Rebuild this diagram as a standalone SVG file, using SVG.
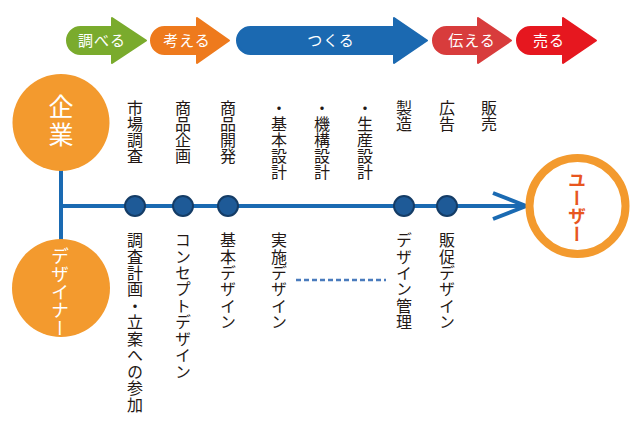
<svg xmlns="http://www.w3.org/2000/svg" width="640" height="431" viewBox="0 0 640 431">
<style>
text { font-family: "Noto Sans CJK JP", "Noto Sans", sans-serif; }
.step { fill: #ffffff; font-size: 15px; letter-spacing: 1px; text-anchor: middle; }
.v { writing-mode: vertical-rl; fill: #231815; font-size: 16px; }
.vb { letter-spacing: 0.45px; }
.arrow { stroke-width: 2; stroke-linejoin: round; }
.node { fill: #1e5a97; stroke: #143c66; stroke-width: 2; }
.line { stroke: #1a6ab2; stroke-width: 4; fill: none; }
</style>
<rect width="640" height="431" fill="#ffffff"/>
<g id="steps">
  <g id="step-shiraberu">
    <path class="arrow" fill="#7aab2d" stroke="#7aab2d" d="M80.5 27 H112 V18 L146 40.5 L112 63 V54 H80.5 A13.5 13.5 0 0 1 80.5 27 Z"/>
    <text class="step" x="102" y="46">調べる</text>
  </g>
  <g id="step-kangaeru">
    <path class="arrow" fill="#ee7a1d" stroke="#ee7a1d" d="M164.5 27 H197 V18 L229 40.5 L197 63 V54 H164.5 A13.5 13.5 0 0 1 164.5 27 Z"/>
    <text class="step" x="187" y="46">考える</text>
  </g>
  <g id="step-tsukuru">
    <path class="arrow" fill="#1b69b1" stroke="#1b69b1" d="M250.5 27 H394 V18 L427 40.5 L394 63 V54 H250.5 A13.5 13.5 0 0 1 250.5 27 Z"/>
    <text class="step" x="331" y="46">つくる</text>
  </g>
  <g id="step-tsutaeru">
    <path class="arrow" fill="#d83c3c" stroke="#d83c3c" d="M446.5 27 H478 V18 L511 40.5 L478 63 V54 H446.5 A13.5 13.5 0 0 1 446.5 27 Z"/>
    <text class="step" x="472" y="46">伝える</text>
  </g>
  <g id="step-uru">
    <path class="arrow" fill="#e6171f" stroke="#e6171f" d="M530.5 27 H563 V18 L596 40.5 L563 63 V54 H530.5 A13.5 13.5 0 0 1 530.5 27 Z"/>
    <text class="step" x="549" y="46">売る</text>
  </g>
</g>
<g id="connectors">
  <line class="line" x1="61" y1="170" x2="61" y2="240"/>
  <line class="line" x1="59" y1="206" x2="525" y2="206"/>
  <polyline class="line" stroke-width="5" points="493,193 526,206 493,219" stroke-linejoin="miter"/>
  <line x1="296" y1="280" x2="386" y2="280" stroke="#4a7bbd" stroke-width="2.5" stroke-dasharray="5 3"/>
</g>
<g id="kigyo">
  <circle cx="61" cy="122.5" r="48.5" fill="#f39a2e"/>
  <text class="v" x="61" y="94" style="fill:#ffffff;font-size:25px;letter-spacing:3px">企業</text>
</g>
<g id="designer">
  <circle cx="61" cy="288" r="49" fill="#f39a2e"/>
  <text class="v" x="60" y="247" style="fill:#ffffff;font-size:18px">デザイナー</text>
</g>
<g id="user">
  <circle cx="577.5" cy="206" r="48" fill="#ffffff" stroke="#f39a2e" stroke-width="8"/>
  <text class="v" x="577" y="171" style="fill:#e8561f;font-size:18px;font-weight:bold">ユーザー</text>
</g>
<g id="node-1">
  <circle class="node" cx="135" cy="206" r="10"/>
  <text class="v" x="135" y="100">市場調査</text>
  <text class="v vb" x="135" y="232">調査計画・立案への参加</text>
</g>
<g id="node-2">
  <circle class="node" cx="183" cy="206" r="10"/>
  <text class="v" x="183" y="100">商品企画</text>
  <text class="v vb" x="183" y="232">コンセプトデザイン</text>
</g>
<g id="node-3">
  <circle class="node" cx="228" cy="206" r="10"/>
  <text class="v" x="228" y="100">商品開発</text>
  <text class="v vb" x="228" y="232">基本デザイン</text>
</g>
<g id="label-4">
  <text class="v" x="279" y="100">・基本設計</text>
  <text class="v vb" x="279" y="232">実施デザイン</text>
</g>
<g id="label-5">
  <text class="v" x="322" y="100">・機構設計</text>
</g>
<g id="label-6">
  <text class="v" x="365" y="100">・生産設計</text>
</g>
<g id="node-7">
  <circle class="node" cx="404" cy="206" r="10"/>
  <text class="v" x="404" y="100">製造</text>
  <text class="v vb" x="404" y="232">デザイン管理</text>
</g>
<g id="node-8">
  <circle class="node" cx="447" cy="206" r="10"/>
  <text class="v" x="447" y="100">広告</text>
  <text class="v vb" x="447" y="232">販促デザイン</text>
</g>
<g id="label-9">
  <text class="v" x="489" y="100">販売</text>
</g>
</svg>
